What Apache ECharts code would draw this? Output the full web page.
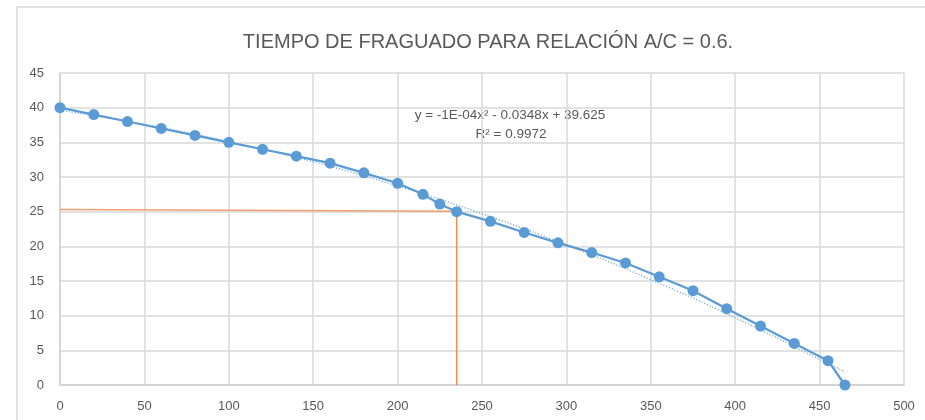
<!DOCTYPE html>
<html><head><meta charset="utf-8">
<script src="https://cdn.jsdelivr.net/npm/echarts@6/dist/echarts.min.js"></script>
<style>html,body{margin:0;padding:0;background:#fff}#c{width:925px;height:420px}</style>
</head><body><div id="c"></div>
<script>
const xValues = [0,20,40,60,80,100,120,140,160,180,200,215,225,235,255,275,295,315,335,355,375,395,415,435,455,465];
const yValues = [40,39,38,37,36,35,34,33,32,30.6,29.1,27.5,26.1,25,23.6,22,20.5,19.1,17.6,15.6,13.6,11,8.5,6,3.5,0];
const trendX = [0,50,100,150,200,250,300,350,400,450,465];
const trendY = [39.6,37.6,35.1,32.2,28.7,24.7,20.2,15.2,9.7,3.7,1.9];
const guideH = [[0,25.3],[235,25.05]];
const guideV = [[235,25.05],[235,0]];
const titleText = 'TIEMPO DE FRAGUADO PARA RELACIÓN A/C = 0.6.';
const eqText = 'y = -1E-04x² - 0.0348x + 39.625';
const r2Text = 'R² = 0.9972';

const chart = echarts.init(document.getElementById('c'));
const font = '"Liberation Sans",sans-serif';
chart.setOption({
  animation:false,
  backgroundColor:'#fff',
  title:{text:titleText,left:483,top:27,textAlign:'center',
    textStyle:{fontFamily:font,fontSize:20,fontWeight:'normal',color:'#595959'}},
  grid:{left:60,right:21,top:73,bottom:35},
  xAxis:{type:'value',min:0,max:500,interval:50,
    axisLine:{show:true,lineStyle:{color:'#D0D0D0',width:1.5}},axisTick:{show:false},
    splitLine:{show:true,lineStyle:{color:'#D9D9D9',width:1.5}},
    axisLabel:{color:'#595959',fontFamily:font,fontSize:13,margin:15}},
  yAxis:{type:'value',min:0,max:45,interval:5,
    axisLine:{show:true,lineStyle:{color:'#D0D0D0',width:1.5}},axisTick:{show:false},
    splitLine:{show:true,lineStyle:{color:'#D9D9D9',width:1.5}},
    axisLabel:{color:'#595959',fontFamily:font,fontSize:13,margin:16}},
  graphic:[
    {type:'rect',shape:{x:17,y:7,width:925,height:430},style:{fill:'none',stroke:'#D9D9D9',lineWidth:1.5},silent:true,z:-10},
    {type:'text',x:510,y:115,style:{text:eqText,fill:'#595959',font:'13.5px '+font,align:'center',verticalAlign:'middle'}},
    {type:'text',x:511,y:134,style:{text:r2Text,fill:'#595959',font:'13.5px '+font,align:'center',verticalAlign:'middle'}}
  ],
  series:[
    {type:'line',data:guideH,symbol:'none',lineStyle:{color:'#F0A070',width:1.5},z:1},
    {type:'line',data:guideV,symbol:'none',lineStyle:{color:'#ED7D31',width:1.5,opacity:0.85},z:1},
    {type:'line',data:trendX.map((x,i)=>[x,trendY[i]]),symbol:'none',smooth:true,
      lineStyle:{color:'#5B9BD5',width:1.3,type:[1,2]},z:2},
    {type:'line',data:xValues.map((x,i)=>[x,yValues[i]]),symbol:'circle',symbolSize:11,
      itemStyle:{color:'#5B9BD5'},lineStyle:{color:'#5B9BD5',width:2.2},z:3}
  ]
});
</script></body></html>
